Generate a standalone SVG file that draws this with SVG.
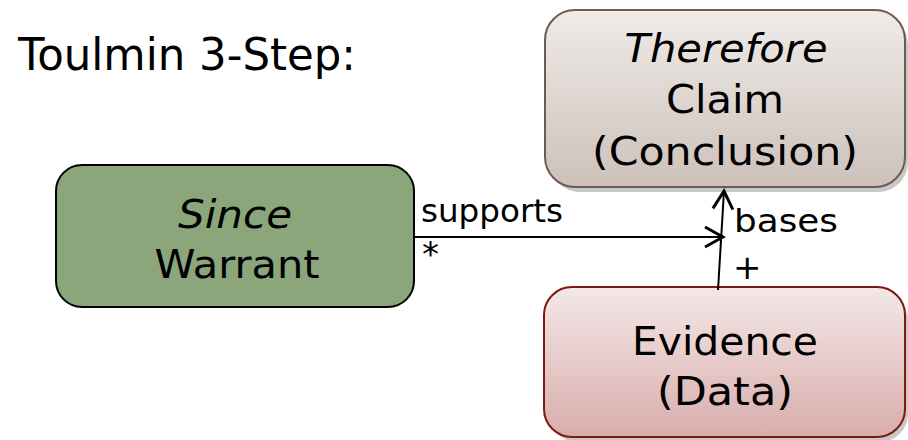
<svg xmlns="http://www.w3.org/2000/svg" width="908" height="440" viewBox="0 0 908 440">
<style>
text{font-family:"DejaVu Sans","Liberation Sans",sans-serif;fill:#000}
.node{font-size:39px;text-anchor:middle}
.lbl{font-size:32px}
.conn{stroke:#000;stroke-width:2;fill:none}
</style>
<defs>
<linearGradient id="gc" x1="0" y1="0" x2="0" y2="1"><stop offset="0" stop-color="#efebe8"/><stop offset="1" stop-color="#cdc1ba"/></linearGradient>
<linearGradient id="ge" x1="0" y1="0" x2="0" y2="1"><stop offset="0" stop-color="#f4e8e8"/><stop offset="1" stop-color="#d8adab"/></linearGradient>
<marker id="open" viewBox="0 0 24 24" refX="21" refY="12" markerWidth="24" markerHeight="24" markerUnits="userSpaceOnUse" orient="auto"><path d="M3,2 L21,12 L3,22" fill="none" stroke="#000" stroke-width="3"/></marker>
</defs>
<rect width="908" height="440" fill="#fff"/>
<text x="18" y="70" style="font-size:44px" textLength="338" lengthAdjust="spacingAndGlyphs">Toulmin 3-Step:</text>
<g id="claim">
<rect x="550" y="15" width="358" height="177" rx="30" fill="#c8c8c8"/>
<rect x="545" y="10" width="360" height="177" rx="30" fill="url(#gc)" stroke="#6e5b50" stroke-width="2"/>
<text class="node" x="726" y="62" font-style="italic" textLength="203" lengthAdjust="spacingAndGlyphs">Therefore</text>
<text class="node" x="725" y="113" textLength="118" lengthAdjust="spacingAndGlyphs">Claim</text>
<text class="node" x="725" y="165" textLength="266" lengthAdjust="spacingAndGlyphs">(Conclusion)</text>
</g>
<g id="warrant">
<rect x="56" y="165" width="358" height="142" rx="26" fill="#8aa67a" stroke="#000" stroke-width="2"/>
<text class="node" x="235" y="228" font-style="italic" textLength="114" lengthAdjust="spacingAndGlyphs">Since</text>
<text class="node" x="237" y="278" textLength="165" lengthAdjust="spacingAndGlyphs">Warrant</text>
</g>
<g id="evidence">
<rect x="549" y="292" width="359" height="150" rx="28" fill="#c8c8c8"/>
<rect x="544" y="287" width="361" height="150" rx="28" fill="url(#ge)" stroke="#7a1a10" stroke-width="2"/>
<text class="node" x="725" y="355" textLength="186" lengthAdjust="spacingAndGlyphs">Evidence</text>
<text class="node" x="725" y="405" textLength="136" lengthAdjust="spacingAndGlyphs">(Data)</text>
</g>
<g id="connectors">
<line class="conn" x1="414" y1="237" x2="723" y2="237" marker-end="url(#open)"/>
<line class="conn" x1="718" y1="290" x2="724" y2="191" marker-end="url(#open)"/>
<text class="lbl" x="421" y="222" textLength="142" lengthAdjust="spacingAndGlyphs">supports</text>
<text class="lbl" x="422" y="266" style="font-size:34px">*</text>
<text class="lbl" x="734" y="232" textLength="104" lengthAdjust="spacingAndGlyphs">bases</text>
<text class="lbl" x="733" y="279" style="font-size:34px">+</text>
</g>
</svg>
